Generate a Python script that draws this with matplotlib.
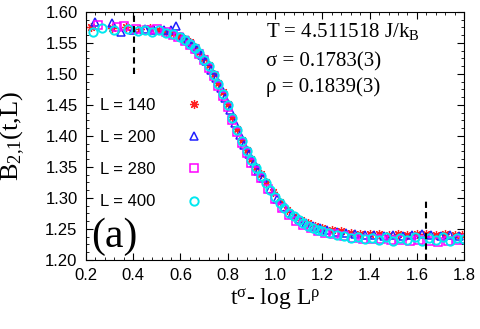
import matplotlib
matplotlib.use('Agg')
import matplotlib.pyplot as plt
from matplotlib.ticker import MultipleLocator

plt.rcParams['font.family'] = ['Liberation Sans', 'DejaVu Sans']
plt.rcParams['mathtext.fontset'] = 'custom'
plt.rcParams['mathtext.rm'] = 'Liberation Serif'
plt.rcParams['mathtext.it'] = 'Liberation Serif:italic'

# data
x140 = [0.22, 0.31, 0.37, 0.43, 0.47, 0.51, 0.54, 0.57, 0.60, 0.62, 0.64, 0.66, 0.68, 0.70, 0.72, 0.74,
        0.76, 0.78, 0.80, 0.82, 0.84, 0.86, 0.88, 0.90, 0.92, 0.94, 0.96, 0.99, 1.02, 1.05, 1.08, 1.11,
        1.14, 1.17, 1.20, 1.24, 1.28, 1.32, 1.36, 1.40, 1.44, 1.48, 1.52, 1.56, 1.60, 1.64, 1.68, 1.72,
        1.76, 1.79]
y140 = [1.575, 1.574, 1.576, 1.572, 1.574, 1.571, 1.568, 1.566, 1.561, 1.556, 1.551, 1.544, 1.536, 1.525,
        1.514, 1.500, 1.486, 1.470, 1.451, 1.431, 1.411, 1.393, 1.377, 1.363, 1.350, 1.338, 1.326, 1.309,
        1.293, 1.281, 1.271, 1.264, 1.259, 1.255, 1.252, 1.249, 1.246, 1.244, 1.242, 1.241, 1.241, 1.240,
        1.241, 1.240, 1.241, 1.242, 1.240, 1.241, 1.240, 1.240]

x200 = [0.24, 0.31, 0.35, 0.40, 0.45, 0.49, 0.53, 0.56, 0.58, 0.61, 0.63, 0.65, 0.67, 0.69, 0.71, 0.73,
        0.75, 0.77, 0.79, 0.81, 0.83, 0.85, 0.87, 0.89, 0.91, 0.93, 0.95, 0.98, 1.01, 1.04, 1.07, 1.10,
        1.13, 1.16, 1.19, 1.22, 1.26, 1.30, 1.34, 1.38, 1.42, 1.46, 1.50, 1.54, 1.58, 1.62, 1.66, 1.70,
        1.74, 1.78]
y200 = [1.583, 1.582, 1.568, 1.571, 1.573, 1.570, 1.571, 1.570, 1.577, 1.560, 1.554, 1.548, 1.540, 1.531,
        1.520, 1.507, 1.493, 1.478, 1.461, 1.441, 1.421, 1.402, 1.385, 1.370, 1.356, 1.344, 1.332, 1.315,
        1.298, 1.285, 1.274, 1.266, 1.260, 1.255, 1.251, 1.248, 1.245, 1.243, 1.241, 1.240, 1.240, 1.239,
        1.240, 1.239, 1.240, 1.241, 1.240, 1.239, 1.240, 1.239]

x280 = [0.25, 0.33, 0.36, 0.41, 0.46, 0.50, 0.54, 0.57, 0.59, 0.62, 0.64, 0.66, 0.68, 0.70, 0.72, 0.74,
        0.76, 0.78, 0.80, 0.82, 0.84, 0.86, 0.88, 0.90, 0.92, 0.94, 0.97, 1.00, 1.03, 1.06, 1.09, 1.12,
        1.15, 1.18, 1.21, 1.25, 1.29, 1.33, 1.37, 1.41, 1.45, 1.49, 1.53, 1.57, 1.61, 1.65, 1.69, 1.73,
        1.77, 1.80]
y280 = [1.579, 1.576, 1.577, 1.573, 1.570, 1.572, 1.567, 1.563, 1.560, 1.553, 1.547, 1.540, 1.532, 1.522,
        1.510, 1.496, 1.481, 1.464, 1.446, 1.426, 1.406, 1.388, 1.372, 1.357, 1.344, 1.332, 1.315, 1.299,
        1.284, 1.272, 1.263, 1.256, 1.251, 1.247, 1.244, 1.241, 1.238, 1.236, 1.234, 1.233, 1.233, 1.232,
        1.232, 1.231, 1.232, 1.230, 1.229, 1.231, 1.232, 1.233]

x400 = [0.23, 0.27, 0.32, 0.38, 0.42, 0.45, 0.48, 0.51, 0.54, 0.57, 0.60, 0.62, 0.64, 0.66, 0.68, 0.70,
        0.72, 0.74, 0.76, 0.78, 0.80, 0.82, 0.84, 0.86, 0.88, 0.90, 0.92, 0.94, 0.96, 0.98, 1.00, 1.02,
        1.04, 1.06, 1.08, 1.10, 1.12, 1.14, 1.16, 1.18, 1.20, 1.23, 1.26, 1.29, 1.32, 1.35, 1.38, 1.41,
        1.44, 1.47, 1.50, 1.53, 1.56, 1.59, 1.62, 1.65, 1.68, 1.71, 1.74, 1.77, 1.80]
y400 = [1.568, 1.574, 1.571, 1.572, 1.569, 1.571, 1.568, 1.570, 1.566, 1.564, 1.559, 1.554, 1.548, 1.541,
        1.533, 1.523, 1.512, 1.498, 1.484, 1.468, 1.449, 1.429, 1.409, 1.391, 1.375, 1.361, 1.348, 1.336,
        1.324, 1.313, 1.302, 1.292, 1.284, 1.276, 1.270, 1.264, 1.259, 1.255, 1.252, 1.249, 1.246, 1.243,
        1.240, 1.238, 1.236, 1.237, 1.233, 1.236, 1.232, 1.237, 1.231, 1.236, 1.232, 1.237, 1.231, 1.236,
        1.232, 1.237, 1.231, 1.236, 1.233]

series = [
    (x140, y140, 'L = 140', (8, 2, 0), '#ff2020'),
    (x200, y200, 'L = 200', '^', '#2020ff'),
    (x280, y280, 'L = 280', 's', '#ff00ff'),
    (x400, y400, 'L = 400', 'o', '#00e8f0'),
]

fig = plt.figure(figsize=(4.8, 3.29), dpi=100)
ax = fig.add_axes([0.179, 0.21, 0.788, 0.754])

for xs, ys, lab, mk, col in series:
    if mk == (8, 2, 0):
        ax.plot(xs, ys, linestyle='none', marker=mk, markersize=6.5, color=col,
                markeredgewidth=0.9, label=lab)
    elif mk == 'o':
        ax.plot(xs, ys, linestyle='none', marker=mk, markersize=6, markerfacecolor='none',
                markeredgecolor=col, markeredgewidth=1.4, label=lab)
    else:
        ax.plot(xs, ys, linestyle='none', marker=mk, markersize=6, markerfacecolor='none',
                markeredgecolor=col, markeredgewidth=1.1, label=lab)

# dashed guides
ax.plot([0.405, 0.405], [1.50, 1.60], 'k--', lw=1.5, dashes=(3, 2))
ax.plot([1.638, 1.638], [1.20, 1.30], 'k--', lw=1.5, dashes=(3, 2))

ax.set_xlim(0.2, 1.8)
ax.set_ylim(1.20, 1.60)
ax.xaxis.set_major_locator(MultipleLocator(0.2))
ax.xaxis.set_minor_locator(MultipleLocator(0.04))
ax.yaxis.set_major_locator(MultipleLocator(0.05))
ax.yaxis.set_minor_locator(MultipleLocator(0.0125))
ax.set_xticklabels([f'{v:.1f}' for v in ax.get_xticks()])
ax.set_yticklabels([f'{v:.2f}' for v in ax.get_yticks()])
ax.tick_params(which='both', direction='in', top=True, right=True, labelsize=12, pad=6)
ax.tick_params(which='major', length=5)
ax.tick_params(which='minor', length=2.5)

ax.set_xlabel(r'$\mathrm{t^{σ}}$- log L$^{\mathrm{ρ}}$', family='Liberation Serif', fontsize=17, labelpad=2)
ax.set_ylabel(r'$\mathrm{B_{2{,}1}(t{,}L)}$', fontsize=19)
ax.yaxis.set_label_coords(-0.155, 0.5)

ax.text(0.476, 0.919, r'T = 4.511518 J/k$_{\mathrm{B}}$', transform=ax.transAxes,
        family='Liberation Serif', fontsize=15, va='center')
ax.text(0.476, 0.80, 'σ = 0.1783(3)', transform=ax.transAxes,
        family='Liberation Serif', fontsize=15, va='center')
ax.text(0.476, 0.695, 'ρ = 0.1839(3)', transform=ax.transAxes,
        family='Liberation Serif', fontsize=15, va='center')
ax.text(0.014, 0.092, '(a)', transform=ax.transAxes, family='Liberation Serif',
        fontsize=30, va='center')

ax.legend(loc='upper left', bbox_to_anchor=(0.037, 0.653), markerfirst=False, frameon=False,
          fontsize=12, borderpad=0, borderaxespad=0, handlelength=1.0, handletextpad=1.8,
          labelspacing=1.03)

fig.savefig('out.png', dpi=100)
